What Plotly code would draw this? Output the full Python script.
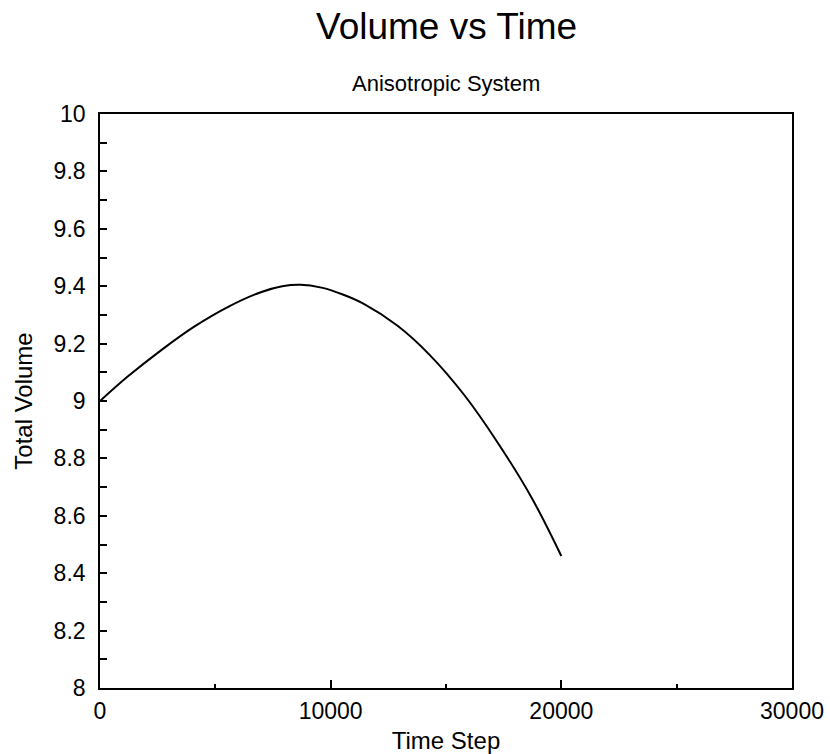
import plotly.graph_objects as go

# Simulation output: total volume sampled along the time-step axis
time_step = [0, 1200, 2700, 4100, 5600, 7000, 7900, 8700, 9600, 10500,
             11400, 12900, 14300, 15800, 17200, 18700, 20000]
total_volume = [9.00, 9.085, 9.18, 9.26, 9.33, 9.38, 9.40, 9.405, 9.395, 9.372,
                9.340, 9.262, 9.16, 9.02, 8.86, 8.665, 8.46]

x_ticks = [0, 10000, 20000, 30000]
y_ticks = [8, 8.2, 8.4, 8.6, 8.8, 9, 9.2, 9.4, 9.6, 9.8, 10]
y_labels = ["8", "8.2", "8.4", "8.6", "8.8", "9", "9.2", "9.4", "9.6", "9.8", "10"]

FONT = "Liberation Sans, Arial, Helvetica, sans-serif"
TICK_FONT = dict(family=FONT, size=23, color="black")
AXIS_TITLE_FONT = dict(family=FONT, size=24, color="black")

fig = go.Figure()
fig.add_trace(go.Scatter(
    x=time_step, y=total_volume, mode="lines",
    line=dict(color="black", width=2, shape="spline", smoothing=1.0),
    showlegend=False,
))

axis_common = dict(
    showline=True, linecolor="black", linewidth=1.6, mirror=True,
    showgrid=False, zeroline=False, automargin=False,
    ticks="inside", tickcolor="black", tickwidth=1.5,
    tickfont=TICK_FONT,
)

fig.update_xaxes(
    range=[0, 30000], tickmode="array", tickvals=x_ticks,
    ticktext=[str(v) for v in x_ticks], ticklen=8,
    ticklabelstandoff=2,
    minor=dict(ticks="inside", dtick=5000, tick0=0, ticklen=4,
               tickcolor="black", tickwidth=1.5),
    title=dict(text="Time Step", font=AXIS_TITLE_FONT, standoff=10),
    **axis_common,
)
fig.update_yaxes(
    range=[8, 10], tickmode="array", tickvals=y_ticks, ticktext=y_labels,
    ticklen=7, ticklabelstandoff=8,
    minor=dict(ticks="inside", dtick=0.1, tick0=8, ticklen=7,
               tickcolor="black", tickwidth=1.5),
    title=dict(text="Total Volume", font=AXIS_TITLE_FONT, standoff=14),
    **axis_common,
)

fig.add_annotation(
    text="Volume vs Time", xref="paper", yref="paper", x=0.5, y=1.0,
    yshift=88, showarrow=False, xanchor="center", yanchor="middle",
    font=dict(family=FONT, size=37, color="black"),
)
fig.add_annotation(
    text="Anisotropic System", xref="paper", yref="paper", x=0.5, y=1.0,
    yshift=31, showarrow=False, xanchor="center", yanchor="middle",
    font=dict(family=FONT, size=22, color="black"),
)

fig.update_layout(
    width=830, height=754,
    margin=dict(l=100, r=38, t=114, b=66),
    paper_bgcolor="white", plot_bgcolor="white",
    font=dict(family=FONT, color="black"),
)

fig.write_html("out.html")
